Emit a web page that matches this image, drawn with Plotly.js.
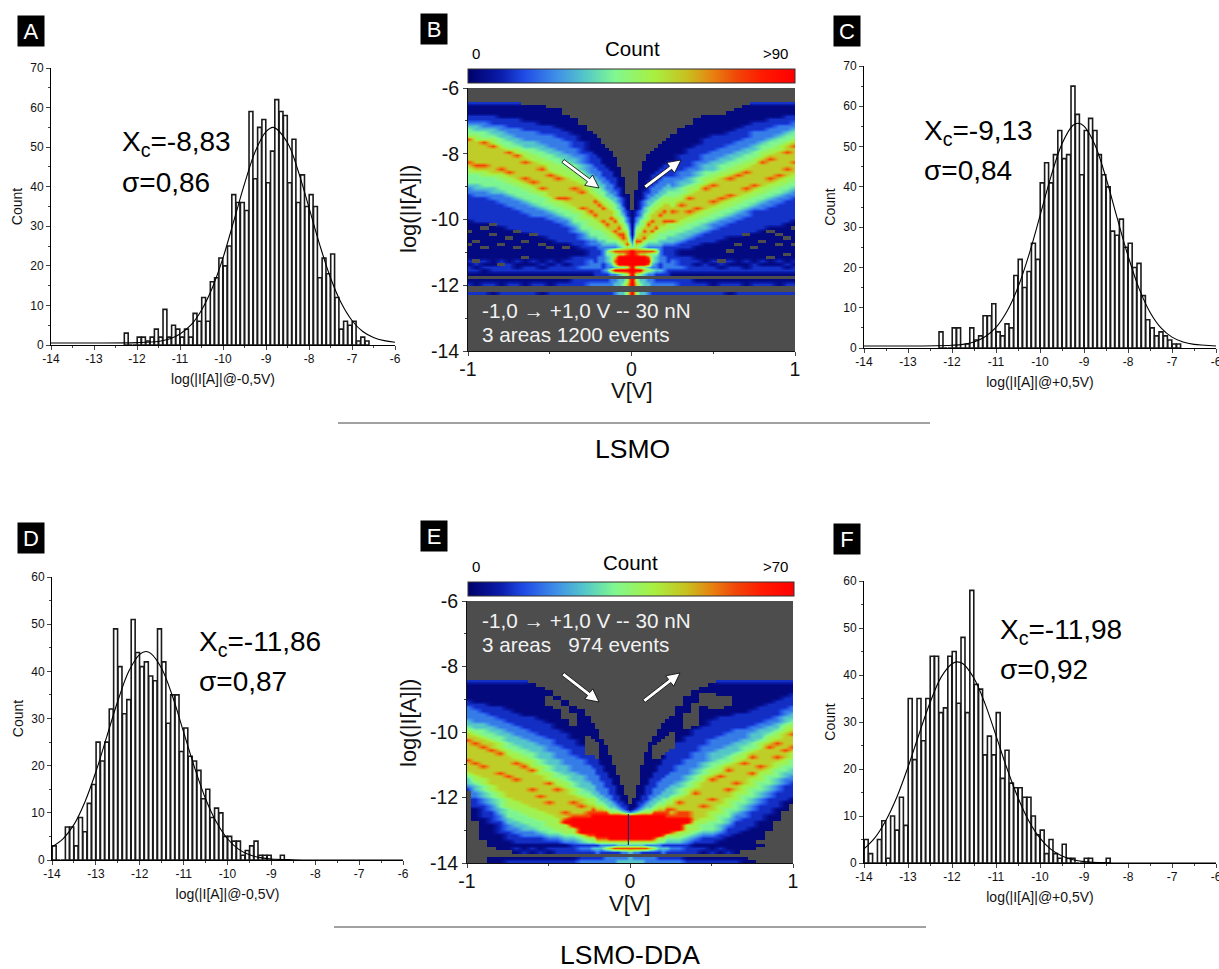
<!DOCTYPE html>
<html><head><meta charset="utf-8">
<script src="https://cdn.plot.ly/plotly-3.0.1.min.js"></script>
<style>html,body{margin:0;padding:0;background:#fff}#chart{width:1219px;height:969px}</style>
</head><body><div id="chart"></div>
<script>
const W=1219,H=969;
// Histograms: first bin centre and counts per 0.1 decade bin
const firstBinA=-12.25;
const countsA=[3,0,0,2,2,1,2,4,2,9,2,5,4,2,4,2,8,6,12,6,16,17,22,20,25,38,36,36,34,59,42,55,57,41,49,62,59,58,41,52,36,43,35,38,35,17,22,18,23,12,4,6,5,6,1,2,1];
const firstBinC=-12.25;
const countsC=[4,0,0,5,5,0,1,5,2,3,8,8,11,4,3,6,5,18,22,15,19,26,22,41,46,41,48,54,47,48,65,58,43,54,57,54,48,43,40,29,28,32,25,26,20,21,13,7,5,3,4,3,2,1,1];
const firstBinD=-13.95;
const countsD=[3,0,0,7,7,3,9,6,12,16,25,21,25,32,49,41,31,34,51,44,41,42,39,38,49,42,29,35,35,23,28,22,21,19,13,15,9,11,10,5,5,4,4,1,2,3,4,1,1,1,0,0,1];
const firstBinF=-13.95;
const countsF=[5,2,0,5,9,1,10,7,14,8,35,22,35,26,35,44,44,32,33,44,45,34,48,32,58,38,37,23,27,23,32,18,24,17,16,16,14,14,10,6,7,2,5,2,1,4,1,1,0,0,1,1,0,0,0,1];
// Fitted curves
const fitAx=[-14,-13,-12,-11.5,-11.25,-11,-10.75,-10.5,-10.25,-10,-9.75,-9.5,-9.25,-9,-8.83,-8.5,-8.25,-8,-7.75,-7.5,-7.25,-7,-6.75,-6.5,-6.25,-6];
const fitAy=[0.5,0.5,0.6,0.9,1.5,2.8,5,8.8,14.4,22,31.3,40.7,48.9,53.9,55,51.1,43.9,34.7,25.3,17,10.6,6.2,3.4,1.9,1.1,0.7];
const fitCx=[-14,-13,-12,-11.75,-11.5,-11.25,-11,-10.75,-10.5,-10.25,-10,-9.75,-9.5,-9.25,-9.13,-9,-8.75,-8.5,-8.25,-8,-7.75,-7.5,-7.25,-7,-6.75,-6.5,-6.25,-6];
const fitCy=[0.5,0.5,0.7,0.9,1.5,2.8,5.1,9.1,15.1,23.2,32.8,42.6,50.7,55.3,55.8,55.1,50.4,42.2,32.4,22.9,14.8,8.9,5,2.7,1.5,0.9,0.7,0.5];
const fitDx=[-14,-13.75,-13.5,-13.25,-13,-12.75,-12.5,-12.25,-12,-11.86,-11.75,-11.5,-11.25,-11,-10.75,-10.5,-10.25,-10,-9.75,-9.5,-9.25,-9,-8.5,-8,-6];
const fitDy=[2.8,4.5,7.5,12.3,18.7,26.2,33.7,40,43.6,44.2,43.8,40.6,34.6,27.1,19.6,13,8,4.5,2.3,1.1,0.5,0.2,0.05,0,0];
const fitFx=[-14,-13.75,-13.5,-13.25,-13,-12.75,-12.5,-12.25,-12,-11.88,-11.75,-11.5,-11.25,-11,-10.75,-10.5,-10.25,-10,-9.75,-9.5,-9.25,-9,-8.5,-8,-6];
const fitFy=[3,5.4,9.1,14.1,20.4,27.4,34.1,39.5,42.4,42.8,42.4,39.3,33.9,27.1,20.1,13.9,8.9,5.3,2.9,1.5,0.7,0.3,0.05,0,0];
// Tick labels
const histTicks=[-14,-13,-12,-11,-10,-9,-8,-7,-6];
const histTickText=['-14','-13','-12','-11','-10','-9','-8','-7','-6'];
const mapYTicks=[-6,-8,-10,-12,-14];
const mapYText=['-6','-8','-10','-12','-14'];
const mapXTicks=[-1,0,1];
const mapXText=['-1','0','1'];
// Voltage columns of both maps
const voltages=[-1,-.95,-.9,-.85,-.8,-.75,-.7,-.65,-.6,-.55,-.5,-.45,-.4,-.35,-.3,-.25,-.225,-.2,-.175,-.15,-.125,-.1,-.075,-.05,-.025,0,.025,.05,.075,.1,.125,.15,.175,.2,.225,.25,.3,.35,.4,.45,.5,.55,.6,.65,.7,.75,.8,.85,.9,.95,1];
// Count of each colour level (level 0 = empty cell)
const levelCountB=[null,3,12,22,32,40,48,58,74,90];
const levelCountE=[null,2,9,17,25,31,38,45,58,70];
// Map B, one line per voltage column. Row index of the start of each colour band, top to bottom, read off the
// picture: first count, band 2..6 rising, ridge start, ridge end, band 6..2 falling, then two orange streak rows.
const bandsB=[
[4,8,10,11,12,14,15,24,26,29,30,32,40,15,22],[4,8,10,11,13,14,16,25,26,29,31,33,41,15,23],[4,8,10,12,13,15,16,25,27,30,31,33,41,16,23],
[4,8,11,12,14,15,17,26,27,30,32,34,42,17,24],[4,9,11,13,15,17,18,26,28,31,32,35,42,18,24],[4,9,12,14,16,18,19,27,29,32,33,36,43,19,25],
[4,9,12,15,17,18,20,28,30,33,34,37,43,20,26],[5,10,13,16,18,19,21,29,31,34,35,38,44,22,27],[5,10,13,16,18,20,22,30,32,35,36,39,45,23,28],
[5,11,14,17,19,21,23,31,33,36,37,39,45,24,30],[6,11,14,18,20,22,25,33,35,37,38,40,46,26,31],[6,12,15,19,21,23,26,34,36,38,39,41,47,27,33],
[8,13,16,20,22,24,27,35,37,39,40,42,47,28,33],[9,14,18,21,23,25,28,36,38,41,42,44,48,30,34],[11,16,20,23,25,27,29,37,40,43,44,46,50,31,36],
[13,19,23,26,28,30,32,39,42,45,46,48,51,33,37],[14,20,24,27,29,31,33,40,43,45,46,48,50,34,38],[15,21,25,28,30,32,34,41,43,46,47,49,49,35,39],
[17,23,27,29,31,33,35,42,44,46,48,49,49,36,40],[18,24,28,31,33,34,36,43,45,47,48,49,49,38,41],[19,25,29,32,34,35,37,44,46,47,48,49,49,39,42],
[21,27,31,33,35,37,39,45,46,47,48,49,49,40,43],[24,30,33,35,37,39,41,46,47,48,49,49,49,42,44],[27,33,36,38,39,41,43,47,48,49,49,49,49,44,45],
[32,37,39,41,42,43,45,48,49,49,49,49,49,46,47],[37,45,46,47,48,49,49,49,49,49,49,49,49,0,0],
[31,37,39,41,42,43,45,48,49,49,49,49,49,46,47],[25,34,37,39,40,42,44,47,48,49,49,49,49,45,46],[22,31,34,36,38,40,42,46,47,48,49,49,49,43,45],
[20,28,32,34,36,38,40,45,46,47,48,49,49,41,44],[19,26,30,33,35,36,38,44,46,47,48,49,49,40,43],[18,25,29,32,34,35,37,43,45,47,48,49,49,39,42],
[17,24,28,31,33,34,36,42,44,46,48,49,49,38,41],[16,23,27,30,32,33,35,42,44,46,47,48,49,37,40],[15,22,27,29,31,33,35,41,43,45,47,48,49,36,40],
[14,22,27,30,31,33,36,41,43,45,47,48,50,37,40],[12,20,25,28,30,32,34,40,42,44,46,47,50,35,38],[11,18,24,27,29,30,32,39,41,43,45,46,49,33,37],
[9,17,22,25,27,29,31,38,40,42,44,45,48,32,36],[8,15,20,23,25,27,29,37,39,41,43,44,47,30,35],[8,14,19,22,25,26,28,36,38,40,41,43,47,29,34],
[8,14,18,21,23,25,27,35,37,39,40,42,46,28,33],[7,13,17,20,22,24,26,34,36,38,39,41,45,27,32],[6,12,16,19,21,23,25,33,35,37,38,40,45,26,31],
[5,11,15,18,20,22,24,32,34,36,37,39,44,25,30],[4,10,13,17,19,21,23,31,33,35,36,37,44,24,29],[4,10,13,16,17,19,21,30,32,34,35,37,43,22,28],
[4,9,12,15,16,18,20,29,31,33,34,36,42,21,27],[4,9,11,14,15,17,19,28,30,32,33,35,42,20,26],[4,8,11,13,14,16,17,27,29,31,32,34,41,19,24],
[4,8,10,12,13,15,16,26,28,30,31,33,40,17,22]];
// Columns where the upper / lower orange streak is broken
const gapsUpperB=[4,8,12,15,19,24,27,31,34,38,41,45,48];
const gapsLowerB=[3,6,10,13,17,20,26,29,32,36,39,43,46];
// Map B: colour levels of the low-current rows (from row 49 down) per column
const tailStartB=49;
const tailsB=["11121221012002","11112121011002","11121211012002","11111221012001","11121221011002","11112221012002","11121121012002","11111221011002","11121221012002","11112121012001","11121221011002","11112221012002","11121221012002",
"11222221022002","11222321022002","22233321023002","22223322023002","22333322023002","33332232023002","55443342023002","75554373033002","86787493034003","87999594044004","87999595045004","88999696067006","99999999999009",
"88999696067006","87999595045004","87999574044004","86898463034003","85554353033002","75443342023002","33332242023002","22333332023002","22223322023002","22233321023002","11222321022002","11222221022002",
"11121221012002","11112221012002","11121221011002","11112121012002","11121221012001","11111221012002","11121121011002","11112221012002","11121221012002","11111221012002","11121221011002","11112121012002","11121221012002"];
// Map B: single empty cells among the navy counts [column,row]
const specksB=[[0,43],[1,46],[2,42],[2,48],[3,44],[4,47],[5,45],[6,43],[6,48],[7,46],[8,44],[9,47],[10,48],[12,48],[0,47],[3,41],[1,52],[4,53],[7,51],
[50,42],[49,45],[48,47],[47,43],[46,46],[45,48],[44,44],[43,47],[42,49],[41,52],[49,50],[47,51],[50,47],[48,44]];
const topRowB=4;
// Map E, same layout, then: streak rows, red-zone start, red-zone end, last filled row
const bandsE=[
[24,30,32,36,38,39,40,52,53,54,56,57,58,42,48,0,0,58],[24,31,33,37,39,40,41,53,55,56,58,60,63,43,49,0,0,67],[24,31,34,37,39,41,42,54,56,58,60,62,66,44,50,0,0,73],
[24,32,35,38,40,42,43,56,58,60,62,64,68,45,51,0,0,74],[24,32,36,39,41,43,45,58,60,63,65,67,71,46,52,0,0,74],[24,33,37,40,43,45,47,60,63,66,68,70,73,48,53,0,0,74],
[24,34,38,41,44,46,48,61,64,67,69,71,74,49,54,0,0,74],[24,35,39,42,45,47,49,62,65,68,70,72,74,50,55,0,0,74],[25,35,40,43,46,48,51,63,66,69,70,72,74,51,57,0,0,74],
[26,36,41,44,48,50,53,64,67,70,71,72,74,53,59,0,0,74],[27,37,42,46,50,52,55,65,69,71,72,73,74,55,61,0,0,74],[29,39,44,48,52,54,56,66,70,71,72,73,74,57,62,0,0,74],
[30,40,45,50,53,55,57,68,71,72,73,74,74,59,64,67,70,74],[32,42,47,52,55,57,59,69,71,72,73,74,74,61,65,66,71,74],[33,44,48,53,57,59,60,71,72,73,74,74,74,62,64,66,71,74],
[35,45,50,55,58,60,62,72,73,74,74,74,74,63,64,66,71,74],[37,46,51,56,59,60,62,72,73,74,74,74,74,63,64,65,71,74],[39,48,53,58,60,62,63,73,74,74,74,74,74,0,0,65,72,74],
[42,50,55,59,61,62,63,73,74,74,74,74,74,0,0,65,72,74],[44,52,57,60,62,63,64,73,74,74,74,74,74,0,0,65,72,74],[47,54,59,61,63,64,65,73,74,74,74,74,74,0,0,65,73,74],
[50,56,61,62,63,64,65,73,74,74,74,74,74,0,0,65,73,74],[53,59,62,63,64,64,65,73,74,74,74,74,74,0,0,65,73,74],[56,61,63,64,64,65,65,73,74,74,74,74,74,0,0,65,73,74],
[59,62,64,64,65,65,65,73,74,74,74,74,74,0,0,65,73,74],[62,64,64,65,65,65,65,73,74,74,74,74,74,0,0,65,73,74],
[60,63,64,64,65,65,65,73,74,74,74,74,74,0,0,65,73,74],[56,61,63,64,64,65,65,73,74,74,74,74,74,0,0,65,73,74],[50,59,62,63,64,64,65,73,74,74,74,74,74,0,0,65,73,74],
[46,56,61,62,63,64,65,73,74,74,74,74,74,0,0,65,73,74],[43,54,59,61,63,64,65,73,74,74,74,74,74,0,0,65,73,74],[41,52,57,60,62,63,64,73,74,74,74,74,74,0,0,65,72,74],
[39,50,55,59,61,62,63,72,73,74,74,74,74,0,0,65,72,74],[37,48,54,58,60,62,63,72,73,74,74,74,74,0,0,65,71,74],[36,46,53,57,60,61,62,71,72,73,74,74,74,63,64,66,71,74],
[35,45,52,56,59,60,62,71,72,73,74,74,74,63,64,66,70,74],[32,43,50,55,57,59,60,70,72,73,74,74,74,61,64,66,70,74],[29,41,48,53,55,57,59,68,71,72,73,74,74,60,64,66,69,74],
[27,39,46,51,53,55,57,67,70,71,72,73,74,58,63,0,0,74],[26,38,44,49,51,53,55,66,68,70,71,72,74,56,62,0,0,74],[25,36,42,46,49,51,53,64,67,70,71,72,74,54,60,0,0,74],
[24,35,41,45,48,50,52,62,65,68,70,71,73,53,59,0,0,74],[24,35,40,44,47,49,50,60,63,66,68,69,72,51,57,0,0,74],[24,34,39,43,46,47,49,58,61,64,65,67,71,50,55,0,0,74],
[24,34,39,42,44,46,48,56,59,62,64,66,70,49,54,0,0,74],[24,33,38,40,43,45,46,54,57,60,62,64,69,47,52,0,0,74],[24,32,37,39,42,43,45,52,55,58,60,62,67,46,50,0,0,73],
[24,31,36,38,40,41,43,51,53,56,58,60,65,44,49,0,0,70],[24,30,35,37,39,40,42,49,51,54,56,58,63,43,47,0,0,67],[24,29,33,35,37,38,40,48,50,52,54,56,61,41,45,0,0,64],
[24,28,32,34,36,37,39,46,48,51,53,55,60,40,44,0,0,62]];
const gapsUpperE=[5,9,12,15,37,39,43,46,49];
const gapsLowerE=[3,7,11,14,35,38,41,44,47];
const tailStartE=74;
const tailsE=["000000","000000","000000","100011","110011","110012","121012","112012","121012","112012","121012","122012","122012","222012","232023","232023","242023","243023","342023","362033","372033","382033","482034","483034","483034","484044",
"483034","483034","482034","382033","372033","362033","342023","243023","242023","232023","232023","222012","122012","121012","112012","121012","112012","111012","110011","110001","100000","000000","000000","000000","000000"];
// Map E: empty pockets in the top of the fan [column,first row,last row]
const pocketsE=[[10,29,31],[11,30,32],[12,32,35],[13,34,37],[15,41,46],[16,42,46],[17,43,47],[31,44,47],[32,43,47],[33,42,46],[34,41,45],[35,40,44],[37,34,38],[38,31,37],[39,28,31],[40,28,32],[41,29,32],[42,29,31]];
const topRowE=24;

const scale=[[0,'#00006a'],[.1,'#0a1cab'],[.17,'#1f4ae6'],[.27,'#3f8fe8'],[.36,'#55c8c8'],[.45,'#80f890'],[.57,'#a8f040'],[.67,'#c8c020'],[.75,'#e88010'],[.82,'#f04808'],[.9,'#ff1a00'],[1,'#ff0000']];
const ROWS=80;
function buildMap(bands,tails,tailStart,topRow,gapU,gapL){
  const lv=[];
  for(let r=0;r<ROWS;r++)lv.push(new Array(bands.length).fill(0));
  bands.forEach((b,c)=>{
    const bottom=b[17]===undefined?Infinity:b[17];
    for(let r=0;r<ROWS;r++){
      let l=0;
      if(r<b[0])l=0; else if(r<b[1])l=(r===topRow?2:1); else if(r<b[2])l=2; else if(r<b[3])l=3; else if(r<b[4])l=4;
      else if(r<b[5])l=5; else if(r<b[6])l=6;
      else if(r<b[7]){l=7;
        if(b[13]&&r===b[13]&&!gapU.includes(c))l=8;
        if(b[14]&&r===b[14]&&!gapL.includes(c))l=8;
        if(b[15]&&r>=b[15]&&r<b[16])l=9; else if(b[15]&&(r===b[15]-1||r===b[16]))l=8;}
      else if(r<b[8])l=6; else if(r<b[9])l=5; else if(r<b[10])l=4; else if(r<b[11])l=3; else if(r<b[12])l=2; else l=1;
      if(r>=bottom)l=0;
      if(r>=tailStart){const ch=tails[c][r-tailStart];l=ch===undefined?0:+ch;}
      lv[r][c]=l;
    }
  });
  return lv;
}
function toCounts(lv,counts){return lv.map(row=>row.map(l=>counts[l]));}
const lvB=buildMap(bandsB,tailsB,tailStartB,topRowB,gapsUpperB,gapsLowerB);
specksB.forEach(s=>{lvB[s[1]][s[0]]=0;});
const lvE=buildMap(bandsE,tailsE,tailStartE,topRowE,gapsUpperE,gapsLowerE);
pocketsE.forEach(p=>{for(let r=p[1];r<=p[2];r++)lvE[r][p[0]]=0;});
const rowY=[];for(let r=0;r<ROWS;r++)rowY.push(-6.05-0.1*r);

const FONT='Liberation Sans, Arial, sans-serif';
const dom=(a,b)=>[a/W,b/W], vdom=(a,b)=>[1-b/H,1-a/H];
const barLine={color:'#1a1a1a',width:1.6};
function binX(first,n){const x=[];for(let i=0;i<n;i++)x.push(+(first+i*0.1).toFixed(2));return x;}
const traces=[];
const layout={width:W,height:H,margin:{l:0,r:0,t:0,b:0,autoexpand:false},paper_bgcolor:'#fff',plot_bgcolor:'#fff',showlegend:false,font:{family:FONT,color:'#000'},bargap:0,annotations:[],shapes:[]};

function hist(n,first,counts,fx,fy,x0,x1,y0,y1,ymax,yticks,xtitle){
  const sx=n===1?'':n, xa='x'+sx, ya='y'+sx;
  traces.push({type:'bar',x:binX(first,counts.length),y:counts,width:0.09,marker:{color:'#fff',line:barLine},xaxis:xa,yaxis:ya,hoverinfo:'skip'});
  traces.push({type:'scatter',mode:'lines',x:fx,y:fy,line:{color:'#000',width:1.1,shape:'spline',smoothing:1},xaxis:xa,yaxis:ya,hoverinfo:'skip'});
  layout['xaxis'+sx]={domain:dom(x0,x1),range:[-14,-6],anchor:ya,tickmode:'array',tickvals:histTicks,ticktext:histTickText,ticks:'outside',ticklen:4,tickwidth:1,ticklabeloverflow:'allow',ticklabelstandoff:-1,
    minor:{tickmode:'linear',tick0:-14,dtick:0.5,ticks:'outside',ticklen:2,tickwidth:1,showgrid:false},showline:true,linecolor:'#000',linewidth:1,showgrid:false,zeroline:false,
    tickfont:{size:12,family:FONT,color:'#111'},title:{text:xtitle,font:{size:14,family:FONT,color:'#111'},standoff:8}};
  layout['yaxis'+sx]={domain:vdom(y0,y1),range:[0,ymax],anchor:xa,tickmode:'array',tickvals:yticks,ticktext:yticks.map(String),ticks:'outside',ticklen:4,tickwidth:1,
    minor:{tickmode:'linear',tick0:0,dtick:5,ticks:'outside',ticklen:2,tickwidth:1,showgrid:false},showline:true,linecolor:'#000',linewidth:1,showgrid:false,zeroline:false,
    tickfont:{size:12,family:FONT,color:'#111'},title:{text:'Count',font:{size:14,family:FONT,color:'#111'},standoff:4}};
}
function map(n,lv,counts,zmax,x0,x1,y0,y1,cbX0,cbX1,cbY0,cbY1,gapY){
  const sx=n, xa='x'+sx, ya='y'+sx;
  traces.push({type:'heatmap',x:voltages,y:rowY,z:toCounts(lv,counts),zmin:0,zmax:zmax,zsmooth:'best',colorscale:scale,hoverongaps:false,hoverinfo:'skip',xaxis:xa,yaxis:ya,
    colorbar:{orientation:'h',x:(cbX0+cbX1)/2/W,xanchor:'center',y:1-cbY0/H,yanchor:'top',lenmode:'pixels',len:cbX1-cbX0,thicknessmode:'pixels',thickness:cbY1-cbY0,xpad:0,ypad:0,outlinewidth:1,outlinecolor:'#333',
      ticks:'',showticklabels:false}});
  layout['xaxis'+sx]={domain:dom(x0,x1),range:[-1,1],anchor:ya,tickmode:'array',tickvals:mapXTicks,ticktext:mapXText,ticks:'outside',ticklen:4,tickwidth:1,ticklabelstandoff:-3,
    minor:{tickmode:'linear',tick0:-1,dtick:0.5,ticks:'outside',ticklen:2,tickwidth:1,showgrid:false},showline:true,linecolor:'#111',linewidth:1,showgrid:false,zeroline:false,
    tickfont:{size:19.5,family:FONT,color:'#111'}};
  layout['yaxis'+sx]={domain:vdom(y0,y1),range:[-14,-6],anchor:xa,tickmode:'array',tickvals:mapYTicks,ticktext:mapYText,ticks:'outside',ticklen:4,tickwidth:1,
    minor:{tickmode:'linear',tick0:-14,dtick:1,ticks:'outside',ticklen:2,tickwidth:1,showgrid:false},showline:true,linecolor:'#111',linewidth:1,showgrid:false,zeroline:false,
    tickfont:{size:19.5,family:FONT,color:'#111'}};
  layout.shapes.push({type:'rect',xref:'paper',yref:'paper',x0:x0/W,x1:x1/W,y0:1-y1/H,y1:1-y0/H,line:{width:0},fillcolor:'#4d4d4d',layer:'below'});
  // the empty row that crosses the map stays plain grey
  layout.shapes.push({type:'rect',xref:xa,yref:ya,x0:-1,x1:1,y0:gapY+0.04,y1:gapY-0.04,line:{width:0},fillcolor:'#4d4d4d',layer:'above'});
}
hist(1,firstBinA,countsA,fitAx,fitAy,51,395,68,345,70,[0,10,20,30,40,50,60,70],'log(|I[A]|@-0,5V)');
map(2,lvB,levelCountB,90,468,795,88,351,468,795,69,83,-11.76);
hist(3,firstBinC,countsC,fitCx,fitCy,864,1216,66,348,70,[0,10,20,30,40,50,60,70],'log(|I[A]|@+0,5V)');
hist(4,firstBinD,countsD,fitDx,fitDy,52,403,577,860,60,[0,10,20,30,40,50,60],'log(|I[A]|@-0,5V)');
map(5,lvE,levelCountE,70,467,793,601,863,468,794,582,596,-13.77);
hist(6,firstBinF,countsF,fitFx,fitFy,864,1216,581,863,60,[0,10,20,30,40,50,60],'log(|I[A]|@+0,5V)');
// thin dark line through the red zone of map E
layout.shapes.push({type:'line',xref:'x5',yref:'y5',x0:-0.01,x1:-0.01,y0:-12.5,y1:-13.45,line:{color:'#1a2a70',width:1.2},layer:'above'});

function note(text,px,py,size,color,anchor,angle){layout.annotations.push({xref:'paper',yref:'paper',x:px/W,y:1-py/H,text:text,showarrow:false,xanchor:anchor||'left',yanchor:'middle',textangle:angle||0,font:{size:size,color:color||'#000',family:FONT}});}
function tag(text,px0,py0){layout.annotations.push({xref:'paper',yref:'paper',x:(px0+12)/W,y:1-(py0+14)/H,text:text,showarrow:false,xanchor:'center',yanchor:'middle',width:24,height:28,bgcolor:'#000',font:{size:22,color:'#fff',family:FONT}});}
// White arrow with a thin black outline, from tail to head (pixel positions on the page)
function arrow(xt,yt,xh,yh){
  const len=Math.hypot(xh-xt,yh-yt),ux=(xh-xt)/len,uy=(yh-yt)/len,nx=-uy,ny=ux,hl=13,hw=6.5,sw=1.8;
  const pts=[[xt+nx*sw,yt+ny*sw],[xh-ux*hl+nx*sw,yh-uy*hl+ny*sw],[xh-ux*hl+nx*hw,yh-uy*hl+ny*hw],[xh,yh],[xh-ux*hl-nx*hw,yh-uy*hl-ny*hw],[xh-ux*hl-nx*sw,yh-uy*hl-ny*sw],[xt-nx*sw,yt-ny*sw]];
  const path='M'+pts.map(p=>(p[0]/W)+','+(1-p[1]/H)).join('L')+'Z';
  layout.shapes.push({type:'path',xref:'paper',yref:'paper',path:path,fillcolor:'#fff',line:{color:'#000',width:0.8},layer:'above'});
}
tag('A',19,17);tag('B',422,15);tag('C',835,17);tag('D',19,524);tag('E',422,522);tag('F',835,525);
note('X<sub>c</sub>=-8,83',120,143,28);note('σ=0,86',120,182,28);
note('X<sub>c</sub>=-9,13',922,132,28);note('σ=0,84',922,170,28);
note('X<sub>c</sub>=-11,86',197,643,28);note('σ=0,87',197,681,28);
note('X<sub>c</sub>=-11,98',998,631,28);note('σ=0,92',998,669,28);
note('-1,0 → +1,0 V -- 30 nN',480,310,20.7,'#f2f2f2');note('3 areas 1200 events',480,334,20.7,'#f2f2f2');
note('-1,0 → +1,0 V -- 30 nN',480,620,20.7,'#f2f2f2');note('3 areas&nbsp;&nbsp;&nbsp;974 events',480,644,20.7,'#f2f2f2');
note('Count',632,49,20.5,'#000','center');note('0',476,53,15,'#000','center');note('>90',775,53,15,'#000','center');
note('Count',631,562,20.5,'#000','center');note('0',476,566,15,'#000','center');note('>70',775,566,15,'#000','center');
note('log(|I[A]|)',408,209,22,'#111','center',-90);note('log(|I[A]|)',408,723,22,'#111','center',-90);
note('V[V]',632,390,22,'#111','center');note('V[V]',630,903,22,'#111','center');
note('LSMO',632,449,26.5,'#000','center');note('LSMO-DDA',630,955,26.5,'#000','center');
arrow(563,161,599,188);arrow(645,187,681,160);arrow(563,674,599,702);arrow(644,701,680,673);
[[338,930,423],[334,926,927]].forEach(l=>layout.shapes.push({type:'line',xref:'paper',yref:'paper',x0:l[0]/W,x1:l[1]/W,y0:1-l[2]/H,y1:1-l[2]/H,line:{color:'#444',width:1}}));
Plotly.newPlot('chart',traces,layout,{displayModeBar:false,staticPlot:true});
</script></body></html>
